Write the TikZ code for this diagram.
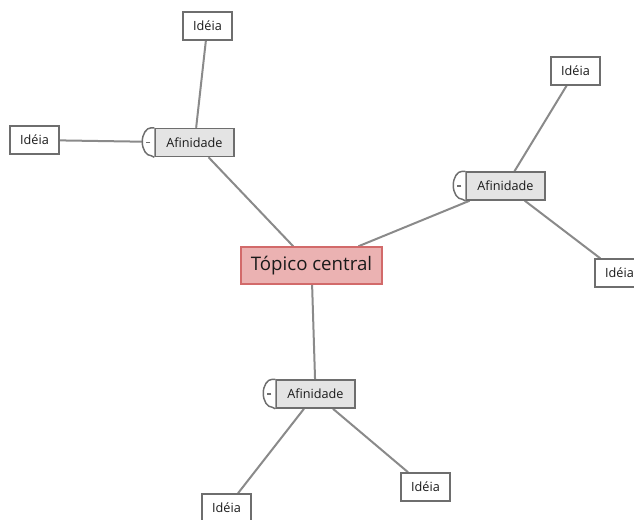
\documentclass[tikz,border=0pt]{standalone}
\usepackage{fontspec}
\setmainfont{Open Sans}
\usetikzlibrary{backgrounds}
\definecolor{linec}{HTML}{8A8A8A}
\definecolor{boxb}{HTML}{6E6E6E}
\definecolor{affill}{HTML}{E4E4E4}
\definecolor{cfill}{HTML}{EBB2B2}
\definecolor{cborder}{HTML}{D26A6A}
\definecolor{txt}{HTML}{1A1A1A}
\begin{document}
\begin{tikzpicture}[x=0.75pt,y=-0.75pt,
  conn/.style={draw=linec,line width=1.5pt},
  idea/.style={draw=boxb,fill=white,line width=1.1pt,minimum width=49*0.75pt,minimum height=28*0.75pt,inner sep=0pt,font=\fontsize{9.5}{10}\selectfont,text=txt},
  afin/.style={draw=boxb,fill=affill,line width=1.1pt,minimum width=79*0.75pt,minimum height=28*0.75pt,inner sep=0pt,font=\fontsize{9.5}{10}\selectfont,text=txt},
  central/.style={draw=cborder,fill=cfill,line width=1.1pt,minimum width=141*0.75pt,minimum height=37*0.75pt,inner sep=0pt,font=\fontsize{14}{15}\selectfont,text=txt},
  toggle/.style={draw=boxb,fill=white,line width=1.1pt}]
\useasboundingbox (0,0) rectangle (634,519);
\node[central] (c) at (311.5,265.5) {Tópico central};
\node[afin] (a1) at (194.5,142.5) {Afinidade};
\node[afin] (a2) at (505.5,186) {Afinidade};
\node[afin] (a3) at (315.5,394) {Afinidade};
\node[idea] (i1) at (207.5,26) {Idéia};
\node[idea] (i2) at (34.5,140) {Idéia};
\node[idea] (i3) at (575.5,71) {Idéia};
\node[idea] (i4) at (619.5,273) {Idéia};
\node[idea] (i5) at (425.5,487) {Idéia};
\node[idea] (i6) at (226.5,508) {Idéia};
\foreach \a in {a1,a2,a3}{
  \draw[toggle] (\a.north west) -- ([xshift=-2.25pt]\a.north west) arc[start angle=90,end angle=270,x radius=6.75pt,y radius=10.5pt] -- (\a.south west);
  \draw[boxb,line width=1pt] ([xshift=-3pt]\a.west) -- ([xshift=-6.5pt]\a.west);
}
\begin{scope}[on background layer]
\draw[conn] (c) -- (a1);
\draw[conn] (c) -- (a2);
\draw[conn] (c) -- (a3);
\draw[conn] (a1) -- (i1);
\draw[conn] (a1) -- (i2);
\draw[conn] (a2) -- (i3);
\draw[conn] (a2) -- (i4);
\draw[conn] (a3) -- (i5);
\draw[conn] (a3) -- (i6);
\end{scope}
\end{tikzpicture}
\end{document}
